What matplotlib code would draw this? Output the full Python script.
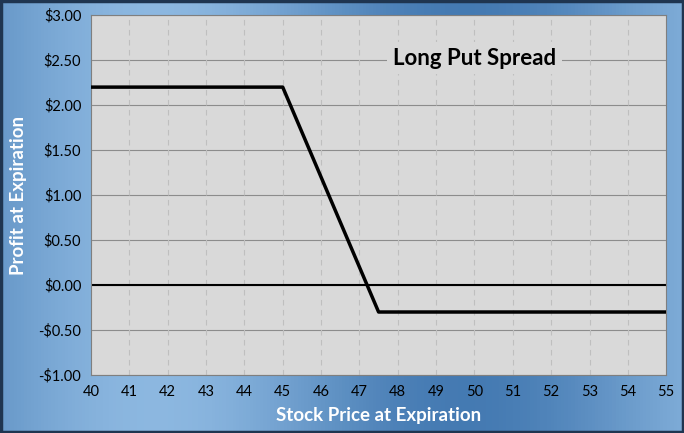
import matplotlib
matplotlib.use("Agg")
import matplotlib.pyplot as plt
import numpy as np

prices = [40, 45, 47.5, 55]
profit = [2.20, 2.20, -0.30, -0.30]
xticks = list(range(40, 56))
yticks = [-1.0, -0.5, 0.0, 0.5, 1.0, 1.5, 2.0, 2.5, 3.0]
ylabels = ["-$1.00", "-$0.50", "$0.00", "$0.50", "$1.00", "$1.50", "$2.00", "$2.50", "$3.00"]

plt.rcParams['font.family'] = ['Lato', 'DejaVu Sans']
fig = plt.figure(figsize=(6.84, 4.33), dpi=100)
bg = fig.add_axes([0, 0, 1, 1])
rng = np.linspace(0, 1, 200)
grad = np.outer(np.ones(100), 0.5 + 0.5 * np.sin(rng * np.pi * 2.2))
g = np.zeros((100, 200, 3))
c1 = np.array([0.27, 0.48, 0.70]); c2 = np.array([0.55, 0.72, 0.88])
for i in range(3):
    g[:, :, i] = c1[i] + (c2[i] - c1[i]) * grad
bg.imshow(g, aspect='auto', extent=[0, 1, 0, 1])
bg.add_patch(plt.Rectangle((0.002, 0.003), 0.996, 0.994, fill=False, ec='#1f3550', lw=2.5, transform=bg.transAxes))
bg.axis('off')

ax = fig.add_axes([0.133, 0.134, 0.841, 0.831])
ax.set_facecolor('#d9d9d9')
ax.plot(prices, profit, color='black', lw=2.5, zorder=3)
ax.axhline(0, color='black', lw=1.5, zorder=2)
ax.set_xlim(40, 55)
ax.set_ylim(-1, 3)
ax.set_xticks(xticks)
ax.set_yticks(yticks)
ax.set_yticklabels(ylabels)
for y in yticks:
    ax.axhline(y, color='#8c8c8c', lw=0.8, zorder=1)
for x in xticks:
    ax.axvline(x, color='#bfbfbf', lw=0.8, ls=(0, (5, 4)), zorder=1)
ax.tick_params(length=0, labelsize=10.5, colors='black', pad=7)
for s in ax.spines.values():
    s.set_color('#7f7f7f')
ax.set_xlabel("Stock Price at Expiration", color='white', fontsize=13.5, fontweight='bold', labelpad=6)
ax.set_ylabel("Profit at Expiration", color='white', fontsize=13.5, fontweight='bold', labelpad=8)
ax.text(50.0, 2.52, "Long Put Spread", fontsize=16, fontweight='bold', ha='center', va='center',
        bbox=dict(fc='#d9d9d9', ec='none', pad=4), zorder=4)
fig.savefig("out.png", dpi=100)
